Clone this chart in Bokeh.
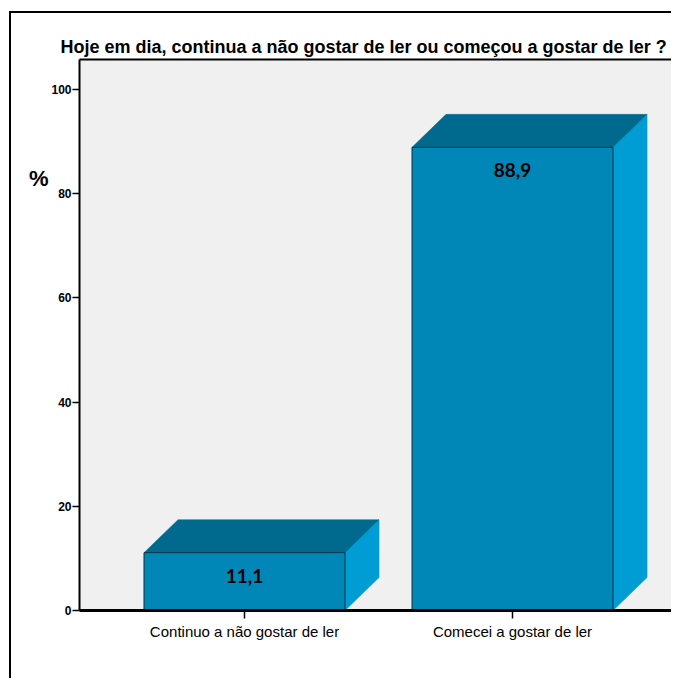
from bokeh.plotting import figure
from bokeh.models import Range1d, LinearAxis, FixedTicker, ColumnDataSource, Title
from bokeh.embed import file_html
from bokeh.resources import INLINE
from bokeh.core.properties import value

# ---- data ----
categories = ["Continuo a não gostar de ler", "Comecei a gostar de ler"]
percentages = [11.1, 88.9]
y_ticks = [0, 20, 40, 60, 80, 100]
title_text = "Hoje em dia, continua a não gostar de ler ou começou a gostar de ler ?"
unit_label = "%"

# ---- style constants ----
FRONT = "#0087B7"
TOP = "#006A8E"
SIDE = "#009DD4"
HALF = 0.375      # half bar width (category units)
DX = 0.127        # 3D depth in x (category units)
DY = 6.33         # 3D depth in y (value units)
UNIT_POS = 83     # vertical placement of the "%" marker (axis units)
FONT = "Liberation Sans"

W, H = 662, 667
p = figure(width=W, height=H, output_backend="svg", toolbar_location=None,
           x_range=Range1d(-0.6157, 1.6007), y_range=Range1d(0, 105.76),
           min_border_left=68, min_border_top=46, min_border_bottom=70,
           min_border_right=0)
p.title = Title(text=title_text, align="left", offset=-19, standoff=5,
                text_font=FONT, text_font_style="bold", text_font_size="18px",
                text_color="black")
p.styles = {"border-left": "2px solid black", "border-top": "2px solid black",
            "margin-left": "9px", "margin-top": "11px"}
p.background_fill_color = "#F0F0F0"
p.border_fill_color = "white"
p.outline_line_color = None
p.grid.visible = False

xs = list(range(len(categories)))
front = dict(left=[x - HALF for x in xs], right=[x + HALF for x in xs],
             bottom=[0] * len(xs), top=percentages)
top_xs, top_ys, side_xs, side_ys = [], [], [], []
for x, v in zip(xs, percentages):
    top_xs.append([x - HALF, x - HALF + DX, x + HALF + DX, x + HALF])
    top_ys.append([v, v + DY, v + DY, v])
    side_xs.append([x + HALF, x + HALF, x + HALF + DX, x + HALF + DX])
    side_ys.append([0, v, v + DY, DY])

p.patches(side_xs, side_ys, fill_color=SIDE, line_color=SIDE, line_width=0.5)
p.patches(top_xs, top_ys, fill_color=TOP, line_color=TOP, line_width=0.5)
p.quad(source=ColumnDataSource(front), left="left", right="right", bottom="bottom",
       top="top", fill_color=FRONT, line_color="#0A3344", line_width=1)

labels = [f"{v:.1f}".replace(".", ",") for v in percentages]
p.text(x=xs, y=percentages, text=labels, text_align="center", text_baseline="middle",
       y_offset=23, text_font=value("Lato"), text_font_style="bold",
       text_font_size="19px", text_color="black")

# axes
p.yaxis.ticker = FixedTicker(ticks=y_ticks)
p.yaxis.minor_tick_line_color = None
p.yaxis.major_tick_out = 7
p.yaxis.major_tick_in = 0
p.yaxis.axis_line_width = 2
p.yaxis.major_tick_line_width = 1.5
p.yaxis.major_label_standoff = 1
p.yaxis.major_label_text_font = FONT
p.yaxis.major_label_text_font_style = "bold"
p.yaxis.major_label_text_font_size = "12px"
p.yaxis.major_label_text_color = "black"

p.xaxis.ticker = FixedTicker(ticks=xs)
p.xaxis.major_label_overrides = {i: c for i, c in enumerate(categories)}
p.xaxis.minor_tick_line_color = None
p.xaxis.major_tick_out = 8
p.xaxis.major_tick_in = 0
p.xaxis.axis_line_width = 3
p.xaxis.major_tick_line_width = 1.5
p.xaxis.major_label_standoff = 4
p.xaxis.major_label_text_font = FONT
p.xaxis.major_label_text_font_size = "15px"
p.xaxis.major_label_text_color = "black"

# frame top border
top_axis = LinearAxis(ticker=FixedTicker(ticks=[]), major_tick_line_color=None,
                      minor_tick_line_color=None, axis_line_width=2,
                      major_tick_out=0, minor_tick_out=0, major_label_standoff=0)
p.add_layout(top_axis, "above")

# "%" unit marker, drawn as an outer left axis label
unit_axis = LinearAxis(ticker=FixedTicker(ticks=[UNIT_POS]),
                       major_label_overrides={UNIT_POS: unit_label},
                       axis_line_color=None, major_tick_line_color=None,
                       minor_tick_line_color=None, major_tick_out=0, minor_tick_out=0,
                       major_label_standoff=0, major_label_text_font=FONT,
                       major_label_text_font_style="bold",
                       major_label_text_font_size="22px",
                       major_label_text_color="black")
p.add_layout(unit_axis, "left")

open("out.html", "w").write(file_html(p, INLINE))
